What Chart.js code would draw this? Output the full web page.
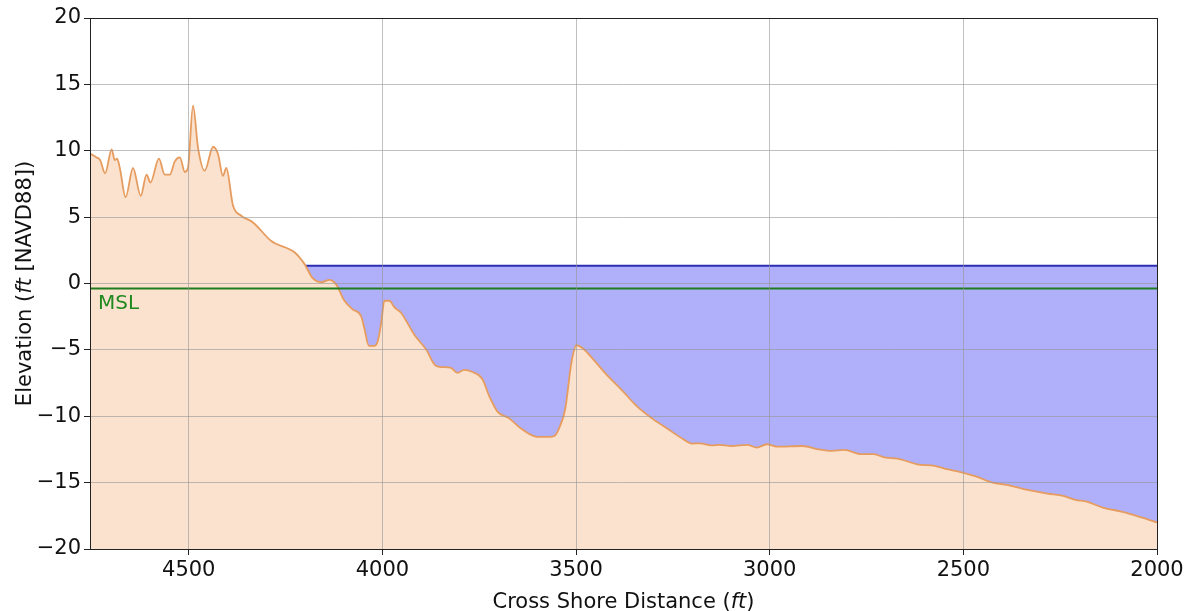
<!DOCTYPE html>
<html>
<head>
<meta charset="utf-8">
<title>Cross-shore profile</title>
<script src="https://cdn.jsdelivr.net/npm/chart.js@4.4.1/dist/chart.umd.min.js"></script>
<style>
  html, body { margin: 0; padding: 0; background: #ffffff; }
  #wrap { width: 1187px; height: 611px; position: relative; }
</style>
</head>
<body>
<div id="wrap"><canvas id="profile"></canvas></div>
<script>
// Cross-shore distance (ft) of each surveyed profile point
const distance = [
  4755, 4738, 4729, 4716, 4699, 4691, 4685, 4678, 4663, 4644,
  4624, 4609, 4599, 4577, 4562, 4549, 4536, 4523, 4510, 4502,
  4489, 4476, 4459, 4437, 4424, 4412, 4403, 4386, 4364, 4334,
  4287, 4227, 4201, 4180, 4158, 4137, 4120, 4098, 4077, 4055,
  4046, 4035, 4021, 4012, 4003, 3995, 3982, 3969, 3952, 3918,
  3887, 3862, 3845, 3823, 3806, 3789, 3767, 3742, 3724, 3703,
  3673, 3643, 3600, 3568, 3556, 3543, 3528, 3512, 3499, 3482,
  3456, 3426, 3380, 3344, 3303, 3262, 3226, 3201, 3180, 3150,
  3130, 3099, 3058, 3033, 3007, 2982, 2915, 2874, 2839, 2808,
  2762, 2732, 2701, 2670, 2619, 2574, 2543, 2507, 2466, 2425,
  2385, 2334, 2283, 2242, 2211, 2181, 2140, 2089, 2038, 2000
];

// Ground elevation (ft NAVD88) at each distance
const elevation = [
  9.8, 9.5, 9.3, 8.3, 10.1, 9.3, 9.4, 8.7, 6.5, 8.7,
  6.6, 8.2, 7.6, 9.4, 8.2, 8.2, 9.2, 9.5, 8.4, 8.7,
  13.4, 10.2, 8.5, 10.3, 9.7, 8.1, 8.7, 5.9, 5.1, 4.6,
  3.2, 2.35, 1.46, 0.4, 0.1, 0.27, -0.05, -1.3, -1.95, -2.45,
  -3.46, -4.7, -4.7, -4.35, -2.95, -1.3, -1.3, -1.8, -2.2, -3.84,
  -4.98, -6.2, -6.3, -6.36, -6.74, -6.5, -6.67, -7.2, -8.5, -9.65,
  -10.15, -10.9, -11.55, -11.55, -11.48, -10.85, -9.47, -5.95, -4.65, -4.9,
  -5.7, -6.71, -8.09, -9.22, -10.18, -10.98, -11.68, -12.06, -12.04, -12.19,
  -12.16, -12.24, -12.16, -12.36, -12.11, -12.29, -12.24, -12.49, -12.61, -12.54,
  -12.86, -12.86, -13.12, -13.19, -13.62, -13.74, -13.99, -14.2, -14.55, -15.0,
  -15.18, -15.55, -15.83, -16.0, -16.3, -16.43, -16.88, -17.2, -17.64, -18.0
];

// Still-water level and mean sea level (ft NAVD88)
const waterLevel = 1.33;
const waterStart = 4198;   // shoreline where the water level meets the profile
const msl = -0.38;

// Axis limits and tick labels
const xRange = [2000, 4755];
const yRange = [-20, 20];
const xTicks = [4500, 4000, 3500, 3000, 2500, 2000];
const yStep = 5;

const FONT = "'DejaVu Sans', 'Liberation Sans', sans-serif";
const SIZE = 21;

const profilePts = distance.map((d, i) => ({ x: d, y: elevation[i] }));
const waterPts = [{ x: waterStart, y: waterLevel }].concat(
  distance.filter(d => d < waterStart).map(d => ({ x: d, y: waterLevel }))
);
const mslPts = [{ x: xRange[1], y: msl }, { x: xRange[0], y: msl }];

const minus = s => String(s).replace('-', '\u2212');

// Frame, axis titles (with italic unit) and the MSL tag
const decorations = {
  id: 'decorations',
  afterDraw(chart) {
    const { ctx, chartArea: a, scales } = chart;
    ctx.save();
    ctx.strokeStyle = '#222';
    ctx.lineWidth = 1;
    ctx.strokeRect(Math.round(a.left) + 0.5, Math.round(a.top) + 0.5,
                   Math.round(a.right - a.left), Math.round(a.bottom - a.top));

    const normal = SIZE + 'px ' + FONT;
    const italic = 'italic ' + SIZE + 'px ' + FONT;
    const drawMixed = (parts, cx, cy) => {
      let total = 0;
      parts.forEach(p => { ctx.font = p[1] ? italic : normal; total += ctx.measureText(p[0]).width; });
      let x = cx - total / 2;
      ctx.textAlign = 'left';
      ctx.textBaseline = 'alphabetic';
      parts.forEach(p => {
        ctx.font = p[1] ? italic : normal;
        ctx.fillText(p[0], x, cy);
        x += ctx.measureText(p[0]).width;
      });
    };
    ctx.fillStyle = '#111';
    drawMixed([['Cross Shore Distance (', false], ['ft', true], [')', false]],
              (a.left + a.right) / 2, 608);
    ctx.save();
    ctx.translate(31, (a.top + a.bottom) / 2);
    ctx.rotate(-Math.PI / 2);
    drawMixed([['Elevation (', false], ['ft', true], [' [NAVD88])', false]], 0, 0);
    ctx.restore();

    ctx.fillStyle = '#1f8a1f';
    ctx.font = '20px ' + FONT;
    ctx.textAlign = 'left';
    ctx.textBaseline = 'alphabetic';
    ctx.fillText('MSL', a.left + 8, scales.y.getPixelForValue(msl) + 20);
    ctx.restore();
  }
};

new Chart(document.getElementById('profile'), {
  type: 'line',
  data: {
    datasets: [
      {
        label: 'Profile',
        data: profilePts,
        borderColor: 'rgb(230,156,94)',
        borderWidth: 1.8,
        backgroundColor: 'rgb(251,226,206)',
        fill: 'start',
        pointRadius: 0,
        cubicInterpolationMode: 'monotone',
        order: 1
      },
      {
        label: 'Water level',
        data: waterPts,
        borderColor: 'rgb(45,45,180)',
        borderWidth: 2,
        backgroundColor: 'rgb(176,176,250)',
        fill: { target: 0, above: 'rgb(176,176,250)', below: 'rgba(0,0,0,0)' },
        pointRadius: 0,
        order: 2
      },
      {
        label: 'MSL',
        data: mslPts,
        borderColor: 'rgb(30,125,30)',
        borderWidth: 2,
        fill: false,
        pointRadius: 0,
        order: 0
      }
    ]
  },
  options: {
    responsive: true,
    maintainAspectRatio: false,
    animation: false,
    layout: { padding: { top: 18, right: 30, bottom: 0, left: 0 } },
    plugins: {
      legend: { display: false },
      tooltip: { enabled: false },
      title: { display: false }
    },
    scales: {
      x: {
        type: 'linear',
        reverse: true,
        min: xRange[0],
        max: xRange[1],
        afterBuildTicks: s => { s.ticks = xTicks.map(v => ({ value: v })); },
        afterFit: s => { s.height = 62; },
        grid: { z: 1, color: 'rgba(150,150,150,0.6)', lineWidth: 1, tickLength: 6, tickColor: '#222' },
        border: { display: false },
        ticks: {
          color: '#111',
          font: { family: FONT, size: SIZE },
          padding: 3,
          maxRotation: 0,
          autoSkip: false,
          callback: v => minus(v)
        }
      },
      y: {
        type: 'linear',
        min: yRange[0],
        max: yRange[1],
        afterFit: s => { s.width = 90; },
        grid: { z: 1, color: 'rgba(150,150,150,0.6)', lineWidth: 1, tickLength: 6, tickColor: '#222' },
        border: { display: false },
        ticks: {
          stepSize: yStep,
          color: '#111',
          font: { family: FONT, size: SIZE },
          padding: 3,
          callback: v => minus(v)
        }
      }
    }
  },
  plugins: [decorations]
});
</script>
</body>
</html>
